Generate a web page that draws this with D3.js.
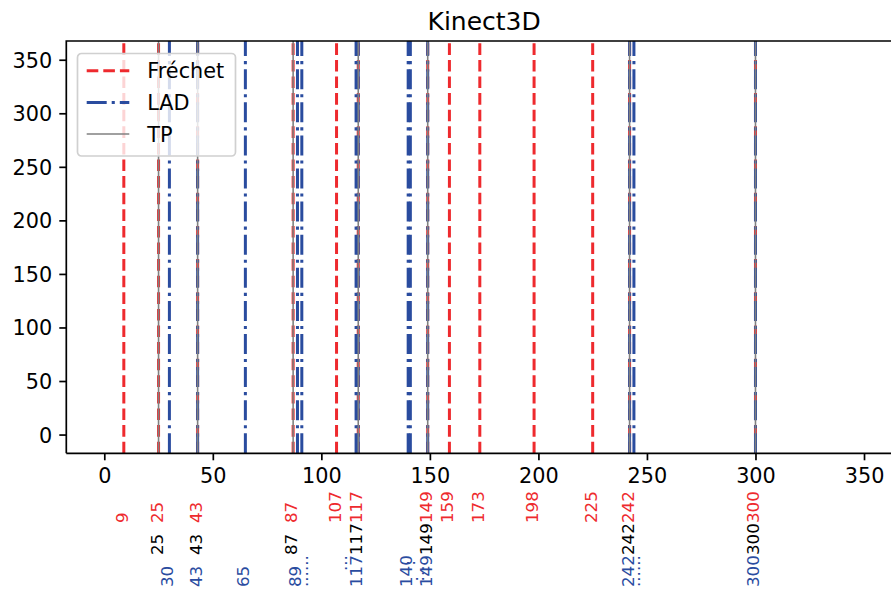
<!DOCTYPE html>
<html>
<head>
<meta charset="utf-8">
<script src="https://cdn.jsdelivr.net/npm/d3@7"></script>
<style>
  body { margin: 0; background: #fff; }
  text { font-family: "DejaVu Sans", sans-serif; }
</style>
</head>
<body>
<svg id="chart" width="891" height="591"></svg>
<script>
// change points found by each method, and the true ones
const frechet = [9, 25, 43, 87, 107, 117, 149, 159, 173, 198, 225, 242, 300];
const lad = [30, 43, 65, 89, 91, 116, 117, 140, 141, 149, 242, 244, 300];
const tp = [25, 43, 87, 117, 149, 242, 300];

// labels under the axis (one row per method)
const frechetLabels = [9, 25, 43, 87, 107, 117, 149, 159, 173, 198, 225, 242, 300];
const tpLabels = [25, 43, 87, 117, 149, 242, 300];
const ladLabels = [30, 43, 65, 89, 117, 140, 149, 242, 300];
// overlapping LAD labels that only show as dots
const ladDots = [[92.2, "......"], [110, "\u00a0\u00a0\u00a0..."], [141.5, "\u00a0\u00a0\u00a0\u00a0:"], [145.5, "\u00a0:.."], [245.1, "......"]];

const xTicks = [0, 50, 100, 150, 200, 250, 300, 350];
const yTicks = [0, 50, 100, 150, 200, 250, 300, 350];

const red = "#ee2a2e";
const blue = "#2a4c9f";
const gray = "#808080";

const svg = d3.select("#chart");
const margin = { top: 41, left: 66.3, bottom: 453.3 };

const x = d3.scaleLinear().domain([-17.5, 367.5]).range([margin.left, 902]);
const y = d3.scaleLinear().domain([-17.5, 367.5]).range([margin.bottom, margin.top]);

const plot = svg.append("g");

// method lines, full height (drawn bottom to top like axvline)
const drawLines = (vals, color, width, dash) => {
  plot.selectAll(null)
    .data(vals)
    .enter()
    .append("line")
    .attr("x1", (d) => x(d))
    .attr("x2", (d) => x(d))
    .attr("y1", y(-17.5))
    .attr("y2", y(367.5))
    .attr("stroke", color)
    .attr("stroke-width", width)
    .attr("stroke-dasharray", dash);
};
drawLines(frechet, red, 3, "11.6,5");
drawLines(lad, blue, 3, "20,5,3.1,5");
drawLines(tp, gray, 1.6, null);

// axes
const yAxis = d3.axisLeft(y).tickValues(yTicks).tickSizeOuter(0).tickSize(7).tickPadding(7);
const yAxisG = svg.append("g").attr("transform", `translate(${margin.left},0)`).call(yAxis);
const xAxis = d3.axisBottom(x).tickValues(xTicks).tickSizeOuter(0).tickSize(7).tickPadding(7);
const xAxisG = svg.append("g").attr("transform", `translate(0,${margin.bottom})`).call(xAxis);

[xAxisG, yAxisG].forEach((g) => {
  g.select(".domain").remove();
  g.selectAll(".tick line").attr("stroke", "#000").attr("stroke-width", 1.7);
  g.selectAll(".tick text").attr("font-size", 20.8).attr("fill", "#000")
    .attr("font-family", "DejaVu Sans");
});
yAxisG.selectAll(".tick text").attr("dy", "0.36em");
xAxisG.selectAll(".tick text").attr("dy", "0.76em");

// spines (left, bottom, top; right is outside the picture)
const spine = svg.append("g").attr("stroke", "#000").attr("stroke-width", 1.7).attr("fill", "none");
spine.append("path").attr("d", `M${margin.left},${margin.bottom}V${margin.top}H902`);
spine.append("path").attr("d", `M${margin.left},${margin.bottom}H902`);

// title
svg.append("text")
  .attr("x", (margin.left + 902) / 2)
  .attr("y", 30)
  .attr("text-anchor", "middle")
  .attr("font-size", 25)
  .text("Kinect3D");

// rotated value labels under the axis
const labelRow = (vals, color, yStart, txt) => {
  svg.append("g")
    .selectAll("text")
    .data(vals)
    .enter()
    .append("text")
    .attr("transform", (d) => `translate(${x(Array.isArray(d) ? d[0] : d) + 4},${yStart}) rotate(-90)`)
    .attr("font-size", 16.7)
    .attr("fill", color)
    .style("white-space", "pre")
    .text(txt || ((d) => d));
};
labelRow(frechetLabels, red, 523);
labelRow(tpLabels, "#000", 555);
labelRow(ladLabels, blue, 587);
labelRow(ladDots, blue, 587, (d) => d[1]);

// legend
const legend = svg.append("g").attr("transform", "translate(77.5,53.5)");
legend.append("rect")
  .attr("width", 158)
  .attr("height", 102.5)
  .attr("rx", 4)
  .attr("fill", "#fff")
  .attr("fill-opacity", 0.8)
  .attr("stroke", "#d0d0d0")
  .attr("stroke-width", 1.7);

const legendItems = [
  { name: "Fréchet", color: red, width: 3, dash: "11.6,5" },
  { name: "LAD", color: blue, width: 3, dash: "20,5,3.1,5" },
  { name: "TP", color: gray, width: 1.6, dash: null },
];
const item = legend.selectAll(".item")
  .data(legendItems)
  .enter()
  .append("g")
  .attr("transform", (d, i) => `translate(0,${17.3 + i * 31.6})`);
item.append("line")
  .attr("x1", 9.2)
  .attr("x2", 51.8)
  .attr("stroke", (d) => d.color)
  .attr("stroke-width", (d) => d.width)
  .attr("stroke-dasharray", (d) => d.dash);
item.append("text")
  .attr("x", 69.8)
  .attr("dy", "0.36em")
  .attr("font-size", 20.8)
  .text((d) => d.name);
</script>
</body>
</html>
